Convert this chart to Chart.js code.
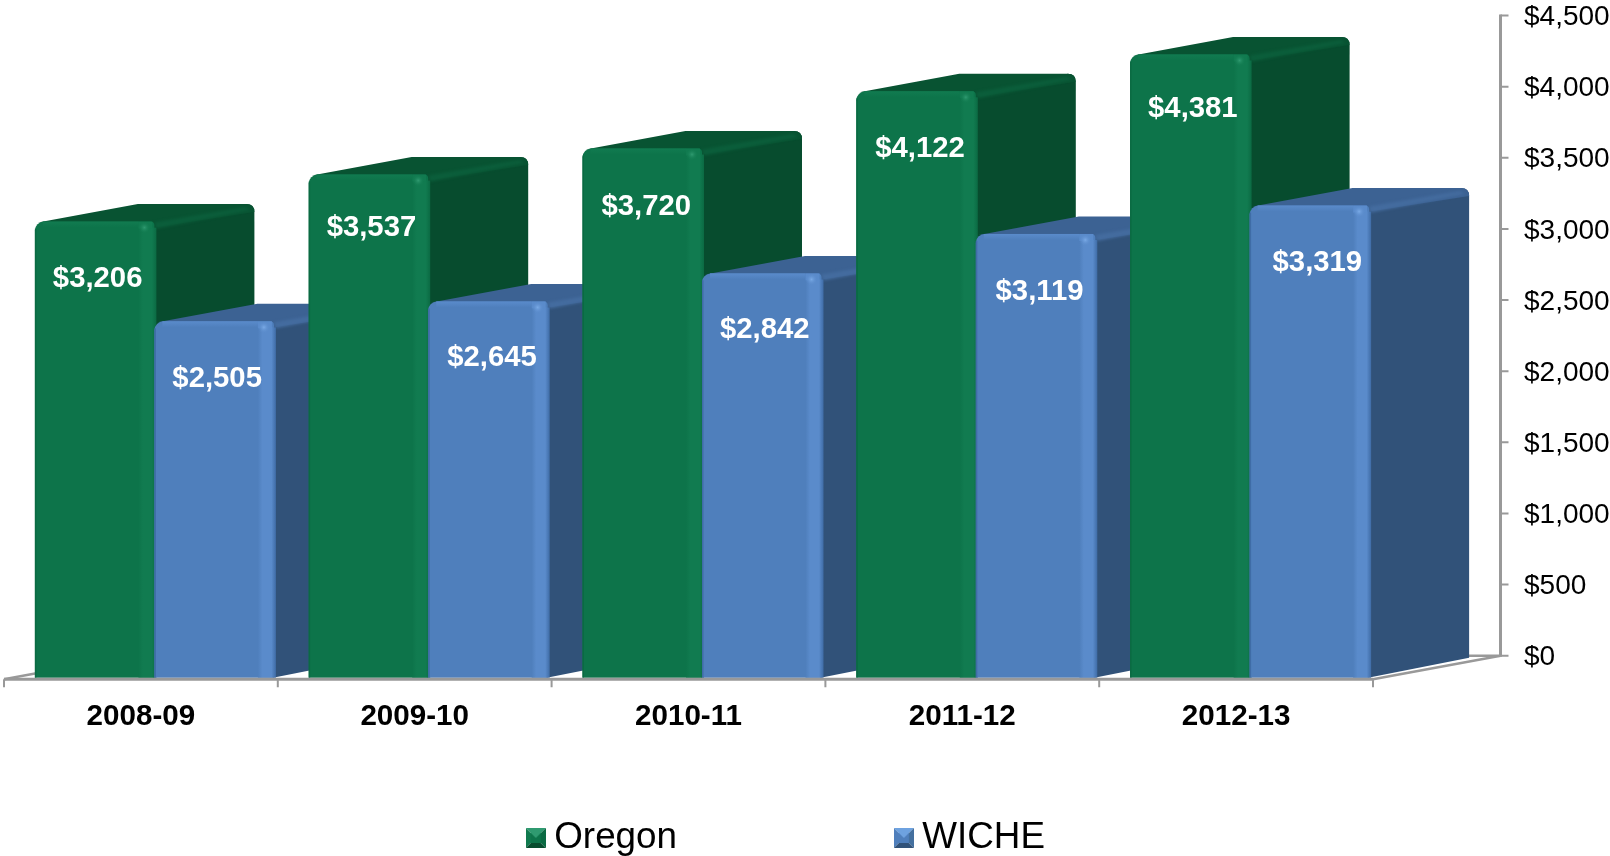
<!DOCTYPE html>
<html><head><meta charset="utf-8">
<style>html,body{margin:0;padding:0;background:#fff}canvas{display:block}</style>
<script src="https://cdn.jsdelivr.net/npm/chart.js@4/dist/chart.umd.min.js"></script>
</head><body><canvas id="c" width="1610" height="856"></canvas>
<script>
const categories = ['2008-09','2009-10','2010-11','2011-12','2012-13'];
const seriesNames = ['Oregon','WICHE'];
const oregon = [3206,3537,3720,4122,4381];
const wiche = [2505,2645,2842,3119,3319];
const FONT = '"Liberation Sans", Arial, sans-serif';
const palette = [
 {front:'#0d744a',lite:'#117b50',dot:'#2f9a70',edge:'#0b6a43',side:'#074c2e',top:'#085332',topLite:'#0b5e3b',swT:'#2f9a70',swL:'#107a4e',swR:'#0b6a43',swB:'#074c2e'},
 {front:'#4f7fbc',lite:'#5a8bcb',dot:'#7aaae6',edge:'#3f6ca6',side:'#315279',top:'#3c6293',topLite:'#446c9f',swT:'#6ea2e0',swL:'#4f7fbc',swR:'#44709f',swB:'#315279'}
];
// small per-label nudges, as placed in the original
const labelNudgeY = [[1,-3,2,2,-2],[2,1,1,2,1]];
const labelNudgeX = [[0,0,1,1,0],[0,1,0,1,5]];
function swatch(p){
  const c=document.createElement('canvas');c.width=20;c.height=20;const g=c.getContext('2d');
  const t=(pts,col)=>{g.fillStyle=col;g.beginPath();pts.forEach((q,i)=>i?g.lineTo(q[0],q[1]):g.moveTo(q[0],q[1]));g.closePath();g.fill();};
  t([[0,0],[20,0],[10,10]],p.swT);t([[0,0],[0,20],[10,10]],p.swL);t([[20,0],[20,20],[10,10]],p.swR);t([[0,20],[20,20],[10,10]],p.swB);
  g.fillStyle=p.front;g.fillRect(5,5,10,10);
  t([[5,5],[15,5],[10,10]],p.swT);
  return c;
}
const DX=100,DY_TOP=17.5,DY_BASE=20,TX=13.5,TY=20,LABEL_SHIFT=2;
const FLOOR_DX=127,AXIS_X=1500.5,AXIS='#999999';

function poly(ctx,pts){ctx.beginPath();pts.forEach((q,i)=>i?ctx.lineTo(q[0],q[1]):ctx.moveTo(q[0],q[1]));ctx.closePath();}
function drawDepth(ctx,b,p){
  const w=b.width,x0=b.x-w/2,x1=b.x+w/2,yt=b.y,yb=b.base,r=8;
  // side face
  ctx.fillStyle=p.side;ctx.beginPath();
  ctx.moveTo(x1-1,yt);ctx.lineTo(x1+DX-r,yt-DY_TOP);
  ctx.quadraticCurveTo(x1+DX,yt-DY_TOP,x1+DX,yt-DY_TOP+r);
  ctx.lineTo(x1+DX,yb-DY_BASE);ctx.lineTo(x1-1,yb);ctx.closePath();ctx.fill();
  // top face
  ctx.fillStyle=p.top;ctx.beginPath();
  ctx.moveTo(x0+3,yt+1);ctx.lineTo(x0+DX+3,yt-DY_TOP);ctx.lineTo(x1+DX-r,yt-DY_TOP);
  ctx.quadraticCurveTo(x1+DX,yt-DY_TOP,x1+DX,yt-DY_TOP+r);ctx.lineTo(x1,yt+6);ctx.lineTo(x1-6,yt+1);ctx.closePath();ctx.fill();
  // ridge highlight between top and side
  ctx.save();ctx.filter='blur(1.5px)';ctx.fillStyle=p.topLite;
  poly(ctx,[[x1,yt+1],[x1+DX-9,yt-DY_TOP+3],[x1+DX-4,yt-DY_TOP+6],[x1+2,yt+7]]);ctx.fill();
  ctx.restore();
}
function drawFrontBevel(ctx,b,p){
  const w=b.width,x0=b.x-w/2,x1=b.x+w/2,yt=b.y,yb=b.base;
  const g=ctx.createLinearGradient(x1-16,0,x1+2,0);
  g.addColorStop(0,p.front);g.addColorStop(.25,p.lite);g.addColorStop(.75,p.lite);g.addColorStop(1,p.edge);
  ctx.fillStyle=g;ctx.fillRect(x1-16,yt+6,18,yb-yt-6);
  const t=ctx.createLinearGradient(0,yt,0,yt+6);
  t.addColorStop(0,p.lite);t.addColorStop(1,p.front);
  ctx.fillStyle=t;ctx.fillRect(x0+8,yt,w-24,6);
  ctx.fillStyle=p.lite;ctx.fillRect(x1-16,yt,14,7);
  const d=ctx.createRadialGradient(x1-10,yt+6,0,x1-10,yt+6,6);
  d.addColorStop(0,p.dot);d.addColorStop(1,p.lite+'00');
  ctx.fillStyle=d;ctx.fillRect(x1-16,yt,14,14);
  ctx.fillStyle=p.edge;ctx.fillRect(x0,yt+7,1.5,yb-yt-7);
}
const scene={
  id:'scene',
  afterLayout(chart){
    const l=chart.legend;
    l.left=308.95;l.right=1610;l.top=592.8;l.bottom=856;
  },
  beforeDatasetsDraw(chart){
    const ctx=chart.ctx,ys=chart.scales.y,xs=chart.scales.x;
    const y0=ys.getPixelForValue(0)-LABEL_SHIFT,yTop=ys.getPixelForValue(ys.max)-LABEL_SHIFT;
    const frontY=y0+23.5,L=xs.left,R=xs.right;
    ctx.save();
    // floor edges and value axis
    ctx.strokeStyle=AXIS;ctx.lineWidth=2.5;ctx.lineCap='butt';
    ctx.beginPath();ctx.moveTo(L,frontY);ctx.lineTo(L+FLOOR_DX,y0);ctx.lineTo(AXIS_X,y0);
    ctx.moveTo(R,frontY);ctx.lineTo(AXIS_X,y0);ctx.stroke();
    ctx.lineWidth=3;ctx.beginPath();ctx.moveTo(AXIS_X,yTop-1);ctx.lineTo(AXIS_X,y0+1);ctx.stroke();
    ctx.lineWidth=2;ctx.beginPath();
    ys.ticks.forEach(t=>{const y=ys.getPixelForValue(t.value)-LABEL_SHIFT;ctx.moveTo(AXIS_X,y);ctx.lineTo(AXIS_X+8,y);});ctx.stroke();
    // bars, painted front to back in category order
    ctx.translate(TX,TY);
    const metas=[chart.getDatasetMeta(0),chart.getDatasetMeta(1)];
    categories.forEach((_,i)=>{
      metas.forEach((m,d)=>{
        const el=m.data[i],b=el.getProps(['x','y','base','width'],true);
        drawDepth(ctx,b,palette[d]);
        el.draw(ctx);
        drawFrontBevel(ctx,b,palette[d]);
      });
    });
    // value labels
    ctx.fillStyle='#fff';ctx.font='bold 29.3px '+FONT;ctx.textAlign='center';ctx.textBaseline='middle';
    metas.forEach((m,d)=>{
      const data=chart.data.datasets[d].data;
      m.data.forEach((el,i)=>{
        const b=el.getProps(['x','y'],true);
        ctx.fillText('$'+data[i].toLocaleString('en-US'),b.x+3+labelNudgeX[d][i],b.y+56+labelNudgeY[d][i]);
      });
    });
    ctx.translate(-TX,-TY);
    // front edge of the category axis
    ctx.strokeStyle=AXIS;ctx.lineWidth=3;
    ctx.beginPath();ctx.moveTo(L,frontY);ctx.lineTo(R,frontY);ctx.stroke();
    ctx.lineWidth=2;ctx.beginPath();
    for(let i=0;i<=categories.length;i++){const x=L+(R-L)*i/categories.length;ctx.moveTo(x,frontY);ctx.lineTo(x,frontY+8);}
    ctx.stroke();
    ctx.restore();
    return false;
  }
};
new Chart(document.getElementById('c'),{
  type:'bar',
  data:{labels:categories,datasets:[
    {label:seriesNames[0],data:oregon,backgroundColor:palette[0].front,borderRadius:{topLeft:9,topRight:4},borderSkipped:'start'},
    {label:seriesNames[1],data:wiche,backgroundColor:palette[1].front,borderRadius:{topLeft:9,topRight:4},borderSkipped:'start'}
  ]},
  options:{
    responsive:false,animation:false,
    layout:{padding:{left:4,top:17.5,right:0,bottom:0}},
    datasets:{bar:{categoryPercentage:0.873,barPercentage:1}},
    scales:{
      x:{grid:{display:false,drawTicks:false},border:{display:false},
         ticks:{padding:44,color:'#000',maxRotation:0,autoSkip:false,font:{family:FONT,size:29.6,weight:'bold',lineHeight:1}},
         afterFit(s){s.height=128;}},
      y:{position:'right',min:0,max:4500,grid:{display:false,drawTicks:false},border:{display:false},
         ticks:{stepSize:500,padding:151,color:'#000',font:{family:FONT,size:28,lineHeight:1},
                callback:v=>'$'+Number(v).toLocaleString('en-US')},
         afterFit(s){s.width=237;s.paddingTop=0;s.paddingBottom=0;}}
    },
    plugins:{
      tooltip:{enabled:false},
      legend:{position:'bottom',align:'start',maxHeight:70.3,
        labels:{usePointStyle:true,pointStyleWidth:0.1,padding:226.8,color:'#000',
          font:{family:FONT,size:36.8,lineHeight:1},
          generateLabels:c=>c.data.datasets.map((d,i)=>({text:d.label,fillStyle:palette[i].front,strokeStyle:palette[i].front,lineWidth:0,hidden:false,datasetIndex:i,pointStyle:swatch(palette[i])}))}}
    }
  },
  plugins:[scene]
});
</script></body></html>
